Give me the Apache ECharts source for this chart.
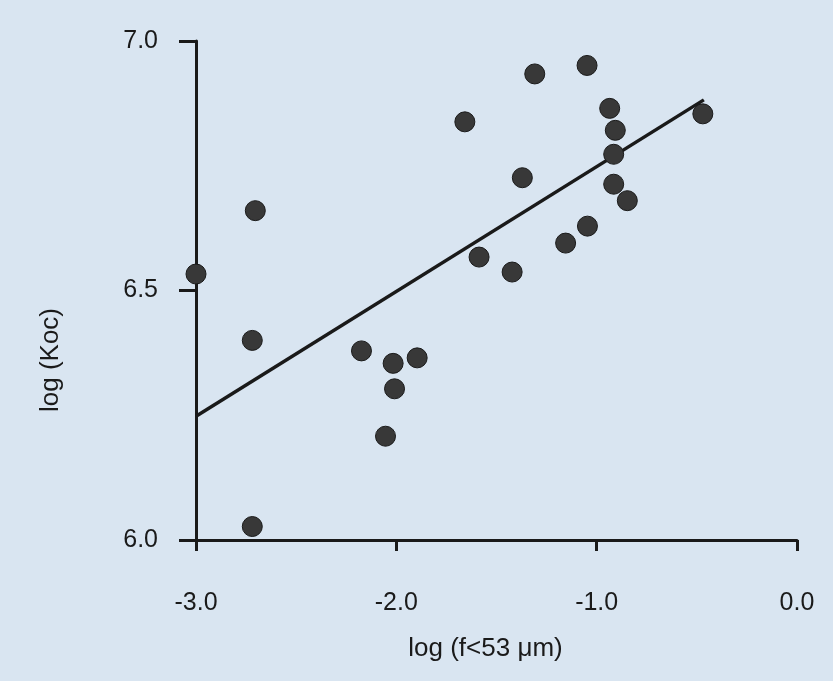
<!DOCTYPE html>
<html>
<head>
<meta charset="utf-8">
<script src="https://cdn.jsdelivr.net/npm/echarts@6/dist/echarts.min.js"></script>
<style>
  html, body { margin: 0; padding: 0; background: #d9e5f1; }
  #chart { width: 833px; height: 681px; }
</style>
</head>
<body>
<div id="chart"></div>
<script>
// log(f<53 um) vs log(Koc) samples
const logFine = [-3.00, -2.704, -2.719, -2.719, -2.174, -2.016, -1.896, -2.009, -2.054,
    -1.658, -1.309, -1.048, -0.935, -0.907, -0.915, -0.470, -1.371, -0.915, -0.847,
    -1.046, -1.155, -1.587, -1.422];
const logKoc = [6.533, 6.660, 6.400, 6.027, 6.379, 6.354, 6.365, 6.303, 6.208,
    6.838, 6.934, 6.951, 6.865, 6.821, 6.773, 6.854, 6.726, 6.713, 6.680,
    6.629, 6.595, 6.567, 6.537];

// regression line end points
const fitX = [-3.0, -0.465];
const fitY = [6.248, 6.882];

const xTicks = [-3.0, -2.0, -1.0, 0.0];
const yTicks = [6.0, 6.5, 7.0];

const chart = echarts.init(document.getElementById('chart'));
const ink = '#1a1a1a';
const font = '"Liberation Sans", Arial, Helvetica, sans-serif';

const option = {
    backgroundColor: '#d9e5f1',
    animation: false,
    grid: { left: 196, right: 36, top: 41, bottom: 141 },
    xAxis: {
        type: 'value',
        min: xTicks[0],
        max: xTicks[xTicks.length - 1],
        interval: 1,
        name: 'log (f<53 \u03bcm)',
        nameLocation: 'middle',
        nameGap: 96,
        nameTextStyle: { color: ink, fontSize: 26, fontFamily: font, padding: [0, 22, 0, 0] },
        axisLine: { show: true, onZero: false, lineStyle: { color: ink, width: 3 } },
        axisTick: { show: true, length: 11, lineStyle: { color: ink, width: 3 } },
        axisLabel: {
            color: ink, fontSize: 25, fontFamily: font, margin: 51,
            formatter: v => v.toFixed(1)
        },
        splitLine: { show: false }
    },
    yAxis: {
        type: 'value',
        min: yTicks[0],
        max: yTicks[yTicks.length - 1],
        interval: 0.5,
        axisLine: { show: true, onZero: false, lineStyle: { color: ink, width: 3 } },
        axisTick: { show: true, length: 17, lineStyle: { color: ink, width: 3 } },
        axisLabel: {
            color: ink, fontSize: 25, fontFamily: font, margin: 38,
            formatter: v => v.toFixed(1)
        },
        splitLine: { show: false }
    },
    graphic: [{
        type: 'text',
        x: 51,
        y: 360,
        rotation: Math.PI / 2,
        style: {
            text: 'log (Koc)',
            fill: ink,
            font: '26px ' + font,
            textAlign: 'center',
            textVerticalAlign: 'middle'
        }
    }],
    series: [
        {
            type: 'line',
            data: fitX.map((x, i) => [x, fitY[i]]),
            showSymbol: false,
            lineStyle: { color: ink, width: 3.5 },
            z: 2
        },
        {
            type: 'scatter',
            data: logFine.map((x, i) => [x, logKoc[i]]),
            symbolSize: 20,
            itemStyle: { color: '#383838', borderColor: '#1a1a1a', borderWidth: 1, opacity: 1 },
            z: 3
        }
    ]
};

chart.setOption(option);
</script>
</body>
</html>
